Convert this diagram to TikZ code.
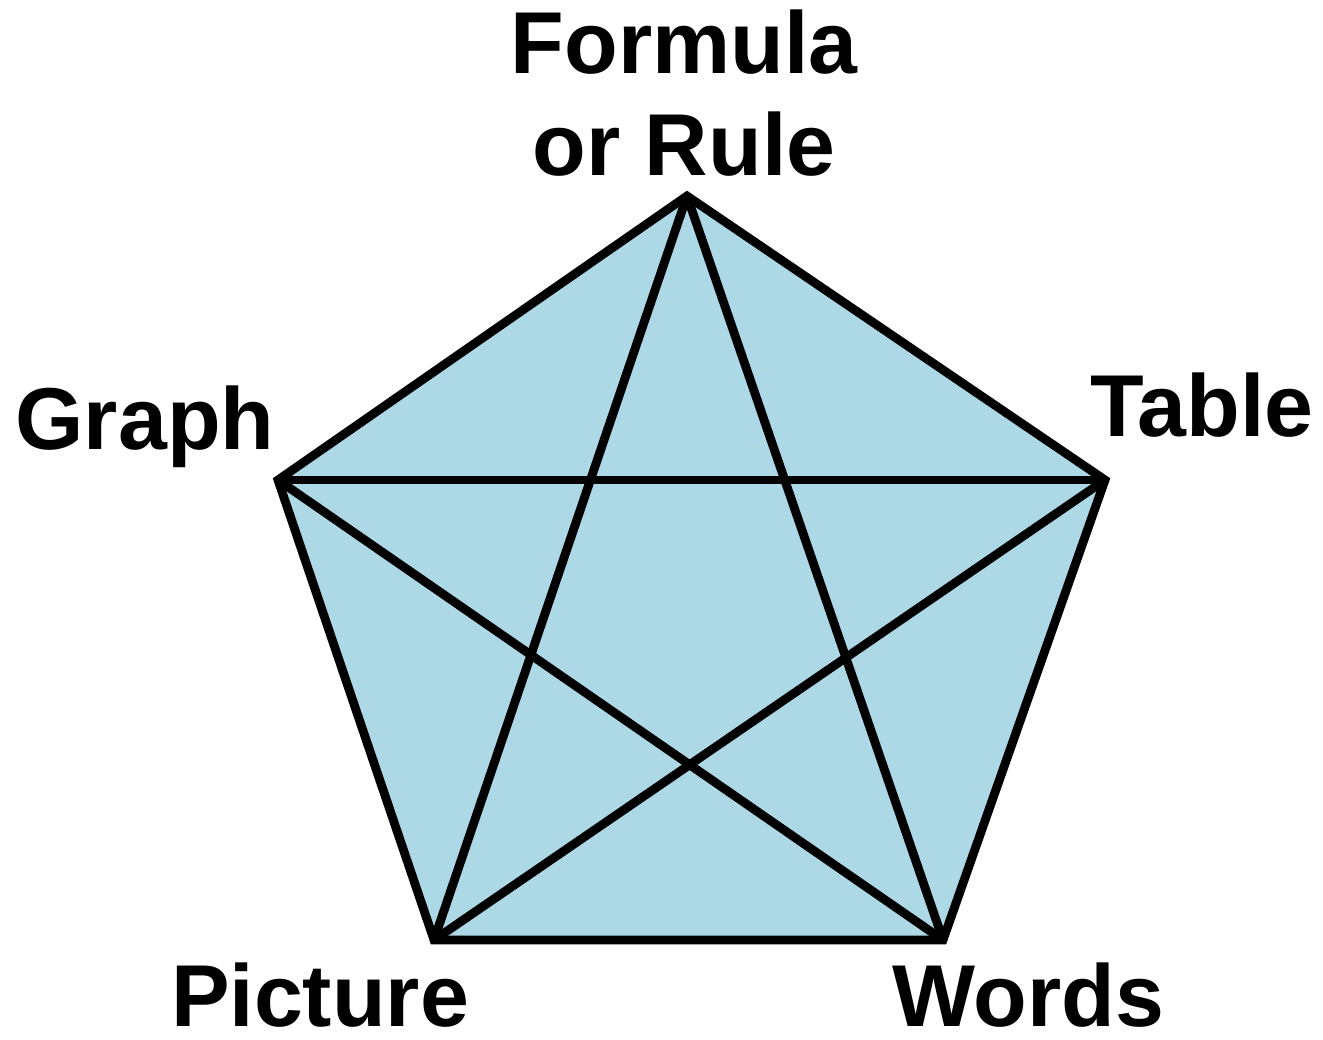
\documentclass[tikz,border=0pt]{standalone}
\usepackage{fontspec}
\setmainfont{Liberation Sans}
\usetikzlibrary{positioning}

\begin{document}
\begin{tikzpicture}[
    every node/.style = {font=\fontsize{25pt}{29pt}\selectfont\bfseries},
    corner/.style = {coordinate},
    panel/.style = {
        fill={rgb,255:red,173;green,216;blue,230},
        draw=black, line width=2.5pt, line join=miter
    },
    edge/.style = {draw=black, line width=2.5pt, line cap=butt},
    lbl/.style = {inner sep=0pt, anchor=base}
]
\useasboundingbox (0,0) rectangle (13.23,10.39);

%% Pentagon corners
\node[corner] (formula) at (6.87,8.43) {};
\node[corner] (table)   at (11.05,5.59) {};
\node[corner] (words)   at (9.43,0.99) {};
\node[corner] (picture) at (4.34,0.99) {};
\node[corner] (graph)   at (2.78,5.59) {};

%% Outline
\path[panel] (formula) -- (table) -- (words) -- (picture) -- (graph) -- cycle;

%% Diagonals
\draw[edge] (formula) -- (picture);
\draw[edge] (formula) -- (words);
\draw[edge] (graph)   -- (table);
\draw[edge] (graph)   -- (words);
\draw[edge] (table)   -- (picture);

%% Labels
\node[inner sep=0pt, anchor=south, align=center] (formulaLbl) at (6.84,8.62)
    {Formula\\or Rule};
\node[lbl] (graphLbl)   at (1.45,5.89)  {Graph};
\node[lbl] (tableLbl)   at (12.02,6.02) {Table};
\node[lbl] (pictureLbl) at (3.20,0.13)  {Picture};
\node[lbl] (wordsLbl)   at (10.28,0.13) {Words};

\end{tikzpicture}
\end{document}
